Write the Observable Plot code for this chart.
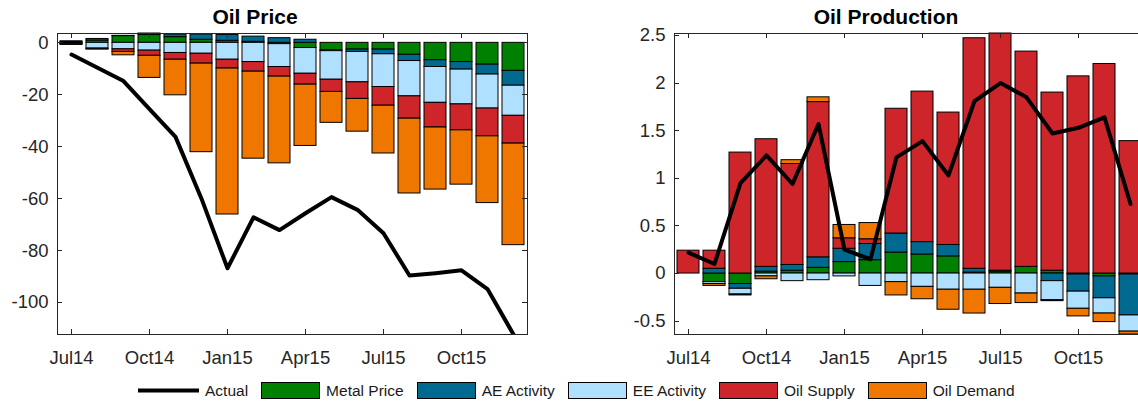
<!DOCTYPE html>
<html>
<head>
<meta charset="utf-8">
<script src="https://cdn.jsdelivr.net/npm/d3@7"></script>
<script src="https://cdn.jsdelivr.net/npm/@observablehq/plot@0.6"></script>
<style>
  body { margin: 0; background: #fff; }
  #fig { position: relative; width: 1138px; height: 406px; overflow: hidden; background: #fff;
         font-family: "Liberation Sans", Arial, sans-serif; }
  .panel { position: absolute; top: 0; }
  .title { position: absolute; top: 6px; width: 300px; text-align: center; font-weight: bold;
           font-size: 21px; line-height: 21px; color: #000; }
  #legend { position: absolute; left: 138px; top: 382px; height: 17px; display: flex; align-items: center;
            font-size: 15.5px; color: #1a1a1a; white-space: nowrap; }
  #legend svg { display: block; flex: none; }
  #legend span { margin-left: 6px; margin-right: 13px; }
</style>
</head>
<body>
<div id="fig"></div>
<script>
// Months on the horizontal axis and the ones that carry a tick label
const months = ["Jul14","Aug14","Sep14","Oct14","Nov14","Dec14","Jan15","Feb15","Mar15",
                "Apr15","May15","Jun15","Jul15","Aug15","Sep15","Oct15","Nov15","Dec15"];
const tickMonths = ["Jul14","Oct14","Jan15","Apr15","Jul15","Oct15"];

// Shock contributions, stacked in this order
const seriesNames = ["Metal Price","AE Activity","EE Activity","Oil Supply","Oil Demand"];
const seriesColors = ["#008000","#00698f","#b0e0ff","#cd2529","#ef7700"];

// Oil price decomposition (percent)
const priceMetal  = [0.3, 0.9, 2.6, 3.0, 2.2, 1.2, 0.8, 0.4, -0.5, -2.0, -2.9, -2.6, -2.6, -4.6, -6.7, -7.4, -8.4, -10.8];
const priceAE     = [0.3, 0.6, 0.1, 0.6, 1.0, 2.0, 2.2, 2.0, 1.8, 1.2, -0.3, -0.9, -1.8, -2.4, -2.6, -2.9, -3.8, -5.7];
const priceEE     = [-0.4, -2.2, -2.5, -3.0, -3.9, -4.2, -6.5, -7.4, -8.8, -9.9, -11.0, -11.7, -12.6, -13.6, -13.8, -13.4, -13.1, -11.6];
const priceSupply = [-0.2, -0.2, -1.0, -2.0, -2.6, -3.8, -3.4, -3.7, -3.7, -4.2, -4.7, -6.4, -7.2, -8.6, -9.5, -10.0, -10.7, -10.7];
const priceDemand = [-0.2, -0.2, -1.3, -8.5, -13.7, -34.1, -56.2, -33.5, -33.4, -23.6, -11.9, -12.6, -18.4, -28.8, -23.9, -20.9, -25.7, -39.1];
const priceActual = [-4.5, -9.6, -14.7, -25.5, -36.2, -60.0, -86.8, -67.2, -72.1, -65.6, -59.4, -64.3, -73.3, -89.6, -88.7, -87.6, -94.8, -112.3];
const priceTicks  = [-100, -80, -60, -40, -20, 0];

// Oil production decomposition (percent)
const prodMetal  = [0, -0.09, -0.11, 0.02, 0.03, 0.06, 0.12, 0.14, 0.22, 0.20, 0.18, 0.01, 0.02, 0.07, 0.03, -0.01, -0.03, -0.01];
const prodAE     = [0, 0.05, -0.05, 0.05, 0.06, 0.11, 0.14, 0.17, 0.20, 0.13, 0.12, 0.04, 0.01, 0, -0.08, -0.18, -0.23, -0.43];
const prodEE     = [0, -0.02, -0.06, -0.03, -0.08, -0.07, -0.03, -0.13, -0.09, -0.14, -0.17, -0.17, -0.15, -0.21, -0.20, -0.18, -0.16, -0.17];
const prodSupply = [0.24, 0.19, 1.27, 1.34, 1.06, 1.63, 0.11, 0.05, 1.31, 1.58, 1.39, 2.42, 2.49, 2.26, 1.87, 2.07, 2.20, 1.39];
const prodDemand = [0, -0.02, -0.01, -0.03, 0.04, 0.05, 0.14, 0.17, -0.14, -0.13, -0.21, -0.25, -0.17, -0.10, -0.01, -0.08, -0.09, -0.03];
const prodActual = [0.22, 0.10, 0.95, 1.24, 0.94, 1.57, 0.25, 0.15, 1.22, 1.39, 1.03, 1.81, 2.00, 1.85, 1.47, 1.53, 1.64, 0.73];
const prodTicks  = [-0.5, 0, 0.5, 1, 1.5, 2, 2.5];

const AXIS = "#262626";
const fig = document.getElementById("fig");

// Short inward ticks on all four sides of the box
function boxTicks(xTicks, yTicks) {
  return (index, scales, values, dims) => {
    const {x, y} = scales;
    const left = dims.marginLeft, right = dims.width - dims.marginRight;
    const top = dims.marginTop, bottom = dims.height - dims.marginBottom;
    const half = x.bandwidth ? x.bandwidth() / 2 : 0;
    const p = d3.path();
    for (const t of xTicks) {
      const px = Math.round(x(t) + half) + 0.5;
      p.moveTo(px, bottom); p.lineTo(px, bottom - 5);
      p.moveTo(px, top); p.lineTo(px, top + 5);
    }
    for (const t of yTicks) {
      const py = Math.round(y(t)) + 0.5;
      p.moveTo(left, py); p.lineTo(left + 5, py);
      p.moveTo(right, py); p.lineTo(right - 5, py);
    }
    const el = document.createElementNS("http://www.w3.org/2000/svg", "path");
    el.setAttribute("d", p.toString());
    el.setAttribute("stroke", AXIS);
    el.setAttribute("fill", "none");
    return el;
  };
}

function panel({title, parts, actual, yTicks, left, marginLeft, titleCenter}) {
  const rows = parts.flatMap((vals, s) => vals.map((v, i) => ({month: months[i], series: seriesNames[s], value: v})));
  const lineRows = actual.map((v, i) => ({month: months[i], value: v}));
  // tight vertical limits around the stacked bars and the line
  const pos = months.map((_, i) => d3.sum(parts, p => Math.max(0, p[i])));
  const neg = months.map((_, i) => d3.sum(parts, p => Math.min(0, p[i])));
  const lo = Math.min(d3.min(neg), d3.min(actual));
  const hi = Math.max(d3.max(pos), d3.max(actual));
  const innerW = 470;
  const svg = Plot.plot({
    width: marginLeft + innerW + 12,
    height: 374,
    marginLeft, marginRight: 12, marginTop: 33, marginBottom: 40,
    style: {fontFamily: "'Liberation Sans', Arial, sans-serif", fontSize: "18.5px", color: AXIS, background: "transparent", overflow: "visible"},
    x: {type: "band", domain: months, paddingInner: 0.16, paddingOuter: 0, align: 0.5},
    y: {domain: [lo, hi]},
    color: {domain: seriesNames, range: seriesColors},
    marks: [
      Plot.barY(rows, {x: "month", y: "value", fill: "series", stroke: "#000", strokeWidth: 1}),
      Plot.line(lineRows, {x: "month", y: "value", stroke: "#000", strokeWidth: 4, clip: true}),
      Plot.frame({stroke: AXIS}),
      boxTicks(tickMonths, yTicks),
      Plot.axisX({ticks: tickMonths, tickSize: 0, tickPadding: 16, label: null}),
      Plot.axisY({ticks: yTicks, tickSize: 0, tickPadding: 9, tickFormat: d => String(d), label: null})
    ]
  });
  svg.classList.add("panel");
  svg.style.left = left + "px";
  fig.appendChild(svg);
  const t = document.createElement("div");
  t.className = "title";
  t.textContent = title;
  t.style.left = (titleCenter - 150) + "px";
  fig.appendChild(t);
}

panel({
  title: "Oil Price",
  parts: [priceMetal, priceAE, priceEE, priceSupply, priceDemand],
  actual: priceActual, yTicks: priceTicks,
  left: 0, marginLeft: 57, titleCenter: 255
});
panel({
  title: "Oil Production",
  parts: [prodMetal, prodAE, prodEE, prodSupply, prodDemand],
  actual: prodActual, yTicks: prodTicks,
  left: 600, marginLeft: 74, titleCenter: 886
});

// Legend row
const legend = document.createElement("div");
legend.id = "legend";
function addItem(name, color, isLine) {
  const s = d3.create("svg").attr("width", isLine ? 61 : 59).attr("height", 17);
  if (isLine) {
    s.append("line").attr("x1", 0).attr("x2", 61).attr("y1", 8.5).attr("y2", 8.5)
      .attr("stroke", "#000").attr("stroke-width", 4);
  } else {
    s.append("rect").attr("x", 0.5).attr("y", 0.5).attr("width", 58).attr("height", 16)
      .attr("fill", color).attr("stroke", "#000").attr("stroke-width", 1);
  }
  legend.appendChild(s.node());
  const label = document.createElement("span");
  label.textContent = name;
  legend.appendChild(label);
}
addItem("Actual", null, true);
seriesNames.forEach((n, i) => addItem(n, seriesColors[i], false));
fig.appendChild(legend);
</script>
</body>
</html>
